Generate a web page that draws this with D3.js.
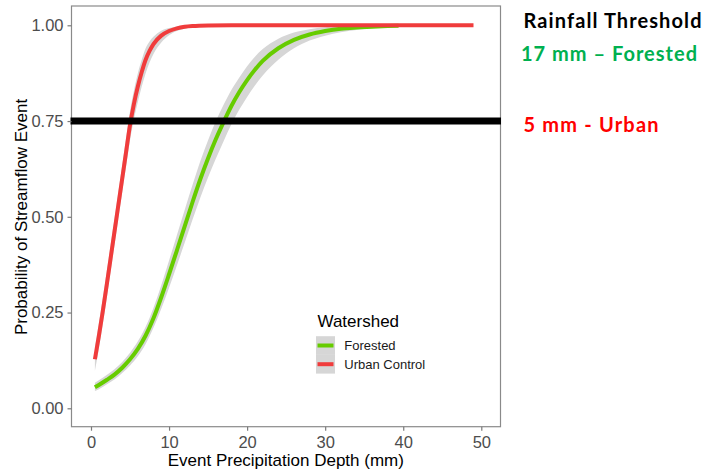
<!DOCTYPE html>
<html><head><meta charset="utf-8">
<script src="https://cdn.jsdelivr.net/npm/d3@7"></script>
<style>body{margin:0;background:#fff}svg{display:block}</style>
</head><body><svg id="c" width="704" height="472"></svg>
<script>
// ---- data ----
const urbanX  = [0.5, 1, 1.5, 2, 2.5, 3, 3.5, 4, 4.5, 5, 5.5, 6, 6.5, 7, 7.5, 8, 9, 10, 11, 12, 13, 15, 18, 25, 30, 35, 40, 45, 49];
const urbanP  = [0.128, 0.188, 0.252, 0.32, 0.39, 0.46, 0.53, 0.60, 0.67, 0.74, 0.795, 0.84, 0.878, 0.91, 0.933, 0.951, 0.973, 0.985, 0.992, 0.996, 0.998, 0.9995, 1, 1, 1, 1, 1, 1, 1];
const urbanLo = [0.098, 0.155, 0.218, 0.285, 0.355, 0.425, 0.495, 0.565, 0.632, 0.70, 0.755, 0.80, 0.84, 0.875, 0.903, 0.925, 0.955, 0.974, 0.985, 0.991, 0.995, 0.999, 1, 1, 1, 1, 1, 1, 1];
const urbanHi = [0.16, 0.222, 0.287, 0.355, 0.425, 0.495, 0.565, 0.635, 0.706, 0.776, 0.83, 0.875, 0.91, 0.94, 0.958, 0.97, 0.986, 0.993, 0.997, 0.999, 1, 1, 1, 1, 1, 1, 1, 1, 1];

const forestX  = [0.5, 1, 2, 3, 4, 5, 6, 7, 8, 9, 10, 11, 12, 13, 14, 15, 16, 17, 18, 19, 20, 21, 22, 24, 26, 28, 30, 32, 34, 36, 38, 39.4];
const forestP  = [0.055, 0.061, 0.074, 0.088, 0.106, 0.128, 0.155, 0.19, 0.235, 0.29, 0.35, 0.412, 0.475, 0.538, 0.598, 0.653, 0.703, 0.748, 0.79, 0.826, 0.857, 0.884, 0.907, 0.94, 0.962, 0.976, 0.985, 0.991, 0.994, 0.996, 0.998, 0.999];
const forestLo = [0.045, 0.05, 0.062, 0.075, 0.092, 0.112, 0.136, 0.168, 0.21, 0.26, 0.315, 0.373, 0.432, 0.492, 0.55, 0.603, 0.652, 0.698, 0.742, 0.78, 0.813, 0.843, 0.869, 0.91, 0.94, 0.96, 0.973, 0.982, 0.988, 0.992, 0.995, 0.996];
const forestHi = [0.067, 0.073, 0.087, 0.102, 0.121, 0.145, 0.175, 0.213, 0.262, 0.321, 0.386, 0.452, 0.518, 0.583, 0.645, 0.7, 0.75, 0.793, 0.832, 0.864, 0.893, 0.918, 0.938, 0.965, 0.981, 0.99, 0.995, 0.998, 0.999, 1, 1, 1];

const thresholdP = 0.75;
const xTicks = [0, 10, 20, 30, 40, 50];
const yTicks = [0, 0.25, 0.5, 0.75, 1];
const seriesNames = ["Forested", "Urban Control"];
const annoTitle = "Rainfall Threshold";
const annoLines = ["17 mm \u2013 Forested", "5 mm - Urban"];

// ---- drawing ----
const svg = d3.select("#c");
const P = {l: 71.5, r: 500.5, t: 6, b: 426.7};
const x = d3.scaleLinear().domain([0, 50]).range([91, 481.3]);
const y = d3.scaleLinear().domain([0, 1]).range([408.3, 25.3]);
const colF = "#66cc00", colU = "#f03c3c", band = "#d6d6d6";

svg.append("rect").attr("x", P.l).attr("y", P.t).attr("width", P.r - P.l).attr("height", P.b - P.t)
  .attr("fill", "#fff");

const mk = (xs, a) => xs.map((v, i) => ({x: v, p: a[i]}));
const area = d3.area().x(d => d.x).y0(d => d.lo).y1(d => d.hi).curve(d3.curveMonotoneX);
const line = d3.line().x(d => x(d.x)).y(d => y(d.p)).curve(d3.curveMonotoneX);

function ribbon(xs, lo, hi) {
  svg.append("path").datum(xs.map((v, i) => ({x: x(v), lo: y(lo[i]), hi: y(hi[i])})))
    .attr("d", area).attr("fill", band);
}
ribbon(forestX, forestLo, forestHi);
ribbon(urbanX, urbanLo, urbanHi);
svg.append("path").datum(mk(forestX, forestP)).attr("d", line)
  .attr("fill", "none").attr("stroke", colF).attr("stroke-width", 4);
svg.append("path").datum(mk(urbanX, urbanP)).attr("d", line)
  .attr("fill", "none").attr("stroke", colU).attr("stroke-width", 4);

// panel border
svg.append("rect").attr("x", P.l).attr("y", P.t).attr("width", P.r - P.l).attr("height", P.b - P.t)
  .attr("fill", "none").attr("stroke", "#8a8a8a").attr("stroke-width", 1.2);

// threshold line
svg.append("line").attr("x1", P.l - 1).attr("x2", P.r + 0.5)
  .attr("y1", y(thresholdP)).attr("y2", y(thresholdP))
  .attr("stroke", "#000").attr("stroke-width", 7);

// axes
const font = "'Liberation Sans', Arial, sans-serif";
const xa = svg.append("g").attr("transform", `translate(0,${P.b})`)
  .call(d3.axisBottom(x).tickValues(xTicks).tickSize(4).tickPadding(6).tickFormat(d3.format("d")));
const ya = svg.append("g").attr("transform", `translate(${P.l},0)`)
  .call(d3.axisLeft(y).tickValues(yTicks).tickSize(4).tickPadding(4).tickFormat(d3.format(".2f")));
[xa, ya].forEach(g => {
  g.select(".domain").remove();
  g.selectAll(".tick line").attr("stroke", "#7a7a7a").attr("stroke-width", 1.2);
  g.selectAll(".tick text").attr("fill", "#4d4d4d").style("font-family", font).style("font-size", "16.5px");
});

svg.append("text").attr("x", 285.8).attr("y", 466).attr("text-anchor", "middle")
  .style("font-family", font).style("font-size", "17px").attr("fill", "#000")
  .text("Event Precipitation Depth (mm)");
svg.append("text").attr("transform", "translate(26.5,217) rotate(-90)").attr("text-anchor", "middle")
  .style("font-family", font).style("font-size", "17px").attr("fill", "#000")
  .text("Probability of Streamflow Event");

// legend
const lg = svg.append("g");
lg.append("text").attr("x", 317.5).attr("y", 327).style("font-family", font).style("font-size", "17px")
  .attr("fill", "#000").text("Watershed");
const keyCols = [colF, colU];
seriesNames.forEach((n, i) => {
  const cy = 345.5 + i * 18.7;
  lg.append("rect").attr("x", 316).attr("y", cy - 9.3).attr("width", 19).attr("height", 18.7).attr("fill", band);
  lg.append("line").attr("x1", 317.5).attr("x2", 333.5).attr("y1", cy).attr("y2", cy)
    .attr("stroke", keyCols[i]).attr("stroke-width", 4);
  lg.append("text").attr("x", 344.3).attr("y", cy + 4.6).style("font-family", font).style("font-size", "13px")
    .attr("fill", "#1a1a1a").text(n);
});

// annotations
const af = "Lato, 'Open Sans', sans-serif";
svg.append("text").attr("x", 523.5).attr("y", 27.5).style("font-family", af).style("font-weight", "bold")
  .style("font-size", "20px").attr("fill", "#000").attr("textLength", 178).text(annoTitle);
svg.append("text").attr("x", 521).attr("y", 61).style("font-family", af).style("font-weight", "bold")
  .style("font-size", "20px").attr("fill", "#00b050").attr("textLength", 176).text(annoLines[0]);
svg.append("text").attr("x", 523.5).attr("y", 131.5).style("font-family", af).style("font-weight", "bold")
  .style("font-size", "20px").attr("fill", "#ff0000").attr("textLength", 135).text(annoLines[1]);
</script></body></html>
